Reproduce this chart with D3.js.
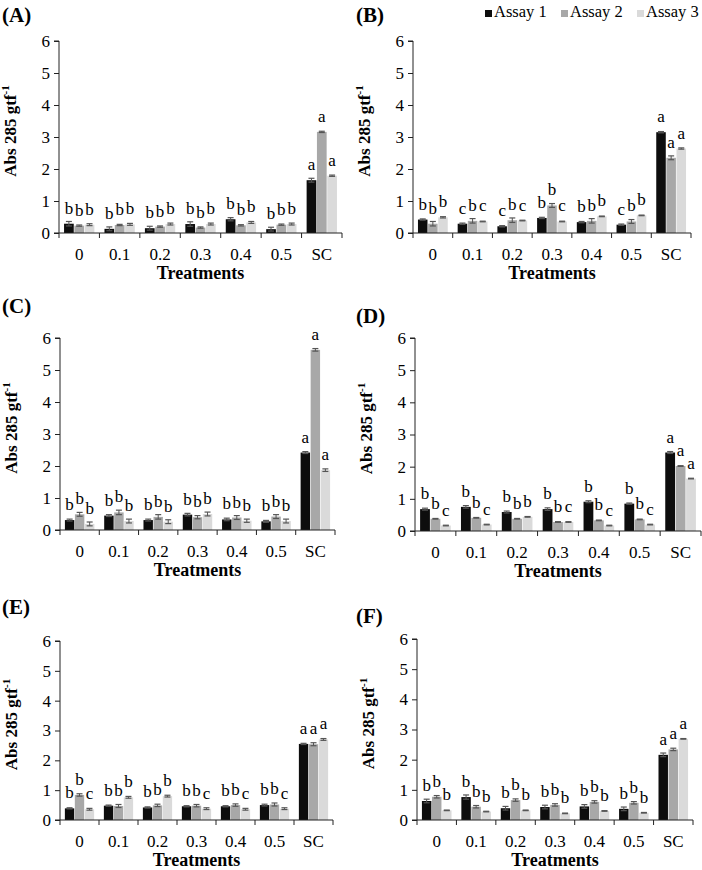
<!DOCTYPE html>
<html>
<head>
<meta charset="utf-8">
<script src="https://cdn.jsdelivr.net/npm/d3@7/dist/d3.min.js"></script>
<style>
  html, body { margin: 0; padding: 0; background: #fff; }
  svg { display: block; }
</style>
</head>
<body>
<svg id="chart" width="702" height="870"></svg>
<script>
// ---------- DATA ----------
const categories = ["0", "0.1", "0.2", "0.3", "0.4", "0.5", "SC"];
const series = ["Assay 1", "Assay 2", "Assay 3"];
const yTicks = [0, 1, 2, 3, 4, 5, 6];
const panelLabels = ["(A)", "(B)", "(C)", "(D)", "(E)", "(F)"];

// values[series][category]
const valuesA = [
  [0.29, 0.13, 0.15, 0.28, 0.43, 0.12, 1.65],
  [0.23, 0.25, 0.20, 0.17, 0.24, 0.26, 3.16],
  [0.26, 0.27, 0.28, 0.28, 0.33, 0.28, 1.79]
];
const errorsA = [
  [0.07, 0.06, 0.06, 0.07, 0.05, 0.06, 0.06],
  [0.02, 0.02, 0.02, 0.02, 0.02, 0.02, 0.02],
  [0.03, 0.03, 0.03, 0.03, 0.03, 0.03, 0.02]
];
const lettersA = [
  ["b", "b", "b", "b", "b", "b", "a"],
  ["b", "b", "b", "b", "b", "b", "a"],
  ["b", "b", "b", "b", "b", "b", "a"]
];

const valuesB = [
  [0.42, 0.29, 0.21, 0.47, 0.34, 0.26, 3.15],
  [0.29, 0.38, 0.40, 0.86, 0.38, 0.36, 2.35],
  [0.49, 0.36, 0.39, 0.36, 0.52, 0.55, 2.64]
];
const errorsB = [
  [0.02, 0.02, 0.02, 0.02, 0.02, 0.02, 0.02],
  [0.07, 0.07, 0.07, 0.06, 0.07, 0.06, 0.06],
  [0.02, 0.01, 0.01, 0.01, 0.01, 0.01, 0.02]
];
const lettersB = [
  ["b", "c", "c", "b", "b", "c", "a"],
  ["b", "b", "b", "b", "b", "b", "a"],
  ["b", "c", "c", "c", "b", "b", "a"]
];

const valuesC = [
  [0.31, 0.45, 0.31, 0.48, 0.33, 0.27, 2.42],
  [0.49, 0.55, 0.41, 0.40, 0.39, 0.42, 5.63],
  [0.19, 0.28, 0.26, 0.50, 0.29, 0.28, 1.87]
];
const errorsC = [
  [0.03, 0.03, 0.03, 0.04, 0.04, 0.03, 0.03],
  [0.06, 0.07, 0.07, 0.05, 0.06, 0.06, 0.04],
  [0.06, 0.06, 0.06, 0.06, 0.05, 0.06, 0.04]
];
const lettersC = [
  ["b", "b", "b", "b", "b", "b", "a"],
  ["b", "b", "b", "b", "b", "b", "a"],
  ["b", "b", "b", "b", "b", "b", "a"]
];

const valuesD = [
  [0.68, 0.75, 0.59, 0.68, 0.91, 0.85, 2.44],
  [0.38, 0.41, 0.38, 0.28, 0.33, 0.36, 2.02],
  [0.17, 0.20, 0.44, 0.28, 0.17, 0.20, 1.63]
];
const errorsD = [
  [0.03, 0.04, 0.03, 0.04, 0.03, 0.02, 0.03],
  [0.01, 0.01, 0.01, 0.01, 0.01, 0.01, 0.01],
  [0.01, 0.01, 0.01, 0.01, 0.01, 0.01, 0.01]
];
const lettersD = [
  ["b", "b", "b", "b", "b", "b", "a"],
  ["b", "b", "b", "b", "b", "b", "a"],
  ["c", "c", "b", "c", "c", "c", "a"]
];

const valuesE = [
  [0.39, 0.48, 0.42, 0.46, 0.46, 0.50, 2.55],
  [0.84, 0.47, 0.49, 0.48, 0.50, 0.52, 2.54],
  [0.36, 0.76, 0.80, 0.38, 0.36, 0.38, 2.70]
];
const errorsE = [
  [0.02, 0.02, 0.02, 0.02, 0.02, 0.03, 0.02],
  [0.04, 0.05, 0.04, 0.04, 0.04, 0.05, 0.05],
  [0.03, 0.03, 0.03, 0.03, 0.03, 0.03, 0.03]
];
const lettersE = [
  ["b", "b", "b", "b", "b", "b", "a"],
  ["b", "b", "b", "b", "b", "b", "a"],
  ["c", "b", "b", "c", "c", "c", "a"]
];

const valuesF = [
  [0.63, 0.76, 0.39, 0.43, 0.45, 0.37, 2.16],
  [0.77, 0.44, 0.66, 0.50, 0.60, 0.57, 2.34],
  [0.32, 0.28, 0.32, 0.22, 0.30, 0.24, 2.69]
];
const errorsF = [
  [0.06, 0.07, 0.06, 0.06, 0.06, 0.06, 0.06],
  [0.04, 0.04, 0.04, 0.04, 0.04, 0.04, 0.04],
  [0.01, 0.01, 0.01, 0.01, 0.01, 0.01, 0.01]
];
const lettersF = [
  ["b", "b", "b", "b", "b", "b", "a"],
  ["b", "b", "b", "b", "b", "b", "a"],
  ["b", "b", "b", "b", "b", "b", "a"]
];

// ---------- LAYOUT / STYLE ----------
const FONT = "'Liberation Serif', 'Times New Roman', Tinos, serif";
const colors = ["#0d0d0d", "#a8a8a8", "#dadada"];
const panels = [
  { label: panelLabels[0], v: valuesA, e: errorsA, l: lettersA, x0: 59,  x1: 342, yt: 41,  yb: 233, lx: 2,   ly: 22 },
  { label: panelLabels[1], v: valuesB, e: errorsB, l: lettersB, x0: 413, x1: 691, yt: 41,  yb: 233, lx: 356, ly: 22 },
  { label: panelLabels[2], v: valuesC, e: errorsC, l: lettersC, x0: 60,  x1: 335, yt: 338, yb: 530, lx: 2,   ly: 313 },
  { label: panelLabels[3], v: valuesD, e: errorsD, l: lettersD, x0: 415, x1: 701, yt: 338, yb: 531, lx: 356, ly: 323 },
  { label: panelLabels[4], v: valuesE, e: errorsE, l: lettersE, x0: 60,  x1: 333, yt: 641, yb: 820, lx: 2,   ly: 614 },
  { label: panelLabels[5], v: valuesF, e: errorsF, l: lettersF, x0: 417, x1: 693, yt: 639, yb: 820, lx: 356, ly: 623 }
];

const svg = d3.select("#chart");
const txt = (sel, size, bold) => sel.style("font-family", FONT).style("font-size", size + "px")
  .style("font-weight", bold ? "bold" : "normal").style("fill", "#000");

panels.forEach(p => {
  const g = svg.append("g");
  const x = d3.scaleBand().domain(categories).range([p.x0, p.x1]).paddingInner(0.25).paddingOuter(0.125);
  const xs = d3.scaleBand().domain(series).range([0, x.bandwidth()]).paddingInner(0.06);
  const y = d3.scaleLinear().domain([0, 6]).range([p.yb, p.yt]);

  series.forEach((s, si) => {
    const sg = g.append("g");
    sg.selectAll("rect").data(categories).join("rect")
      .attr("x", c => x(c) + xs(s))
      .attr("y", (c, ci) => y(p.v[si][ci]))
      .attr("width", xs.bandwidth())
      .attr("height", (c, ci) => y(0) - y(p.v[si][ci]))
      .attr("fill", colors[si]);

    const eg = sg.selectAll("g.err").data(categories).join("g").attr("class", "err");
    const cx = c => x(c) + xs(s) + xs.bandwidth() / 2;
    eg.append("line")
      .attr("x1", cx).attr("x2", cx)
      .attr("y1", (c, ci) => y(p.v[si][ci] - p.e[si][ci]))
      .attr("y2", (c, ci) => y(p.v[si][ci] + p.e[si][ci]))
      .attr("stroke", "#555").attr("stroke-width", 1);
    [1, -1].forEach(sign => {
      eg.append("line")
        .attr("x1", c => cx(c) - 3).attr("x2", c => cx(c) + 3)
        .attr("y1", (c, ci) => y(p.v[si][ci] + sign * p.e[si][ci]))
        .attr("y2", (c, ci) => y(p.v[si][ci] + sign * p.e[si][ci]))
        .attr("stroke", "#555").attr("stroke-width", 1.2);
    });

    txt(sg.selectAll("text.let").data(categories).join("text").attr("class", "let")
      .attr("x", cx)
      .attr("y", (c, ci) => y(p.v[si][ci]) - 10)
      .attr("text-anchor", "middle")
      .text((c, ci) => p.l[si][ci]), 17);
  });

  // y axis
  const yAxis = d3.axisLeft(y).tickValues(yTicks).tickSize(5).tickPadding(4).tickFormat(d3.format("d"));
  const ya = g.append("g").attr("transform", `translate(${p.x0},0)`).call(yAxis);
  ya.select(".domain").attr("stroke", "#222").attr("d", `M-5,${p.yb}H0V${p.yt}H-5`);
  ya.selectAll(".tick line").attr("stroke", "#222");
  txt(ya.selectAll(".tick text"), 17);

  // x axis
  const xa = g.append("g").attr("transform", `translate(0,${p.yb})`);
  xa.append("line").attr("x1", p.x0).attr("x2", p.x1).attr("y1", 0).attr("y2", 0).attr("stroke", "#222");
  const step = x.step();
  const bounds = d3.range(categories.length + 1).map(i => p.x0 + i * step);
  xa.selectAll("line.tk").data(bounds).join("line").attr("class", "tk")
    .attr("x1", d => d).attr("x2", d => d).attr("y1", 0).attr("y2", 5).attr("stroke", "#222");
  txt(xa.selectAll("text.tl").data(categories).join("text").attr("class", "tl")
    .attr("x", c => x(c) + x.bandwidth() / 2)
    .attr("y", 27)
    .attr("text-anchor", "middle")
    .text(c => c), 17);
  txt(xa.append("text")
    .attr("x", (p.x0 + p.x1) / 2)
    .attr("y", 46)
    .attr("text-anchor", "middle")
    .text("Treatments"), 18, true);

  // y title
  const yt = txt(g.append("text")
    .attr("transform", `translate(${p.x0 - 43},${(p.yt + p.yb) / 2 - 6}) rotate(-90)`)
    .attr("text-anchor", "middle"), 17, true);
  yt.append("tspan").text("Abs 285 gtf");
  yt.append("tspan").style("font-size", "11px").attr("dy", -7).text("-1");

  // panel label
  txt(g.append("text").attr("x", p.lx).attr("y", p.ly).text(p.label), 21, true);
});

// legend
const legend = svg.append("g");
const legX = [485, 561, 637];
series.forEach((s, i) => {
  legend.append("rect").attr("x", legX[i]).attr("y", 10).attr("width", 7).attr("height", 7).attr("fill", colors[i]);
  txt(legend.append("text").attr("x", legX[i] + 9).attr("y", 17).text(s), 16.5);
});
</script>
</body>
</html>
